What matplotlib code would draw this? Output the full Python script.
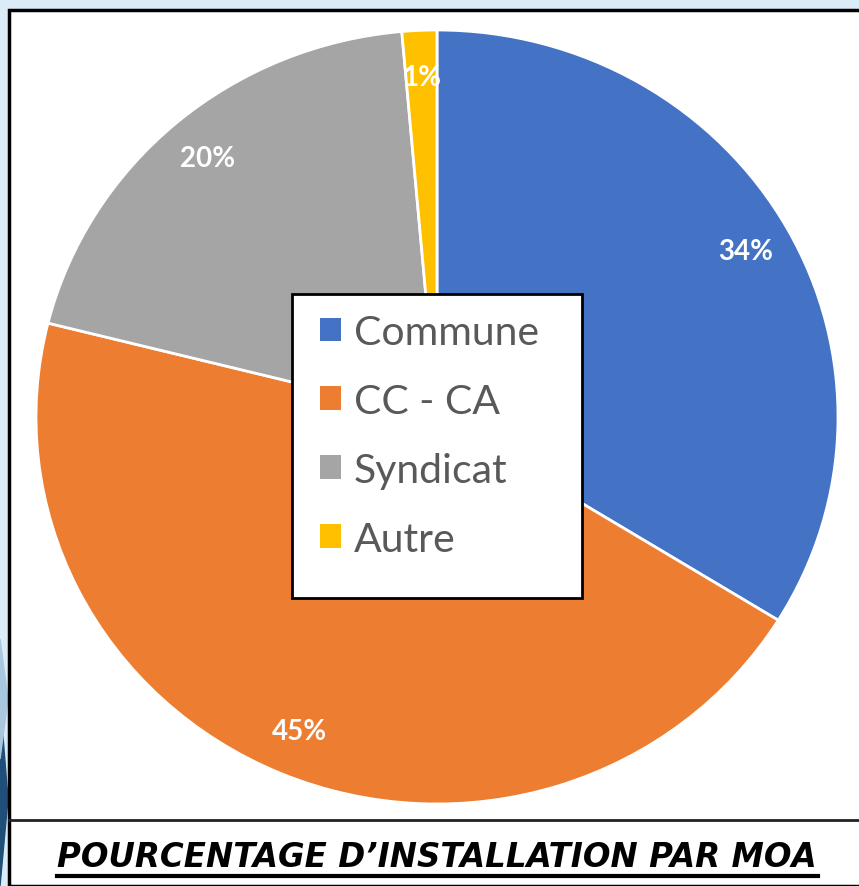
import matplotlib
matplotlib.use('Agg')
import matplotlib.pyplot as plt
from matplotlib.patches import Patch, Rectangle, Polygon
from matplotlib import font_manager
from matplotlib.lines import Line2D

# data
labels = ['Commune', 'CC - CA', 'Syndicat', 'Autre']
values = [33.8, 45.1, 19.7, 1.4]
colors = ['#4472C4', '#ED7D31', '#A5A5A5', '#FFC000']
title = "POURCENTAGE D\u2019INSTALLATION PAR MOA"

W, H = 859, 887
fig = plt.figure(figsize=(W / 100, H / 100), dpi=100)
fig.patch.set_facecolor('#DCEBF8')

def fx(px):
    return px / W

def fy(py):
    return 1 - py / H

# slide decoration at the bottom left
fig.patches.append(Polygon([(0, fy(700)), (fx(8), fy(800)), (0, fy(887))], closed=True,
                           transform=fig.transFigure, color='#1F4E79', zorder=0))
fig.patches.append(Polygon([(0, fy(640)), (fx(8), fy(700)), (0, fy(760))], closed=True,
                           transform=fig.transFigure, color='#A9C8E0', zorder=0))

# white card with black border
fig.patches.append(Rectangle((fx(9), 0), 1.0, fy(11), transform=fig.transFigure,
                             facecolor='white', edgecolor='black', linewidth=2.5, zorder=1))
fig.lines.append(Line2D([fx(9), 1], [fy(821), fy(821)], transform=fig.transFigure,
                        color='#222222', linewidth=2, zorder=2))

# pie
ax = fig.add_axes([fx(36), fy(805), fx(838) - fx(36), fy(31) - fy(805)])
ax.set_zorder(2)
wedges, texts, autotexts = ax.pie(values, colors=colors, startangle=90, counterclock=False,
                                  autopct='%.0f%%', pctdistance=0.88,
                                  wedgeprops=dict(edgecolor='white', linewidth=2),
                                  textprops=dict(color='white', fontsize=20, fontweight='bold',
                                                 family='Lato'))
ax.set_aspect('auto')
ax.set_xlim(-1, 1)
ax.set_ylim(-1, 1)
ax.axis('off')

# legend box
fig.patches.append(Rectangle((fx(292), fy(599)), fx(582) - fx(292), fy(295) - fy(599),
                             transform=fig.transFigure, facecolor='white', edgecolor='black',
                             linewidth=2, zorder=3))
handles = [Patch(facecolor=c, edgecolor='none') for c in colors]
leg = fig.legend(handles, labels, loc='upper left', bbox_to_anchor=(fx(320), fy(315)),
                 frameon=False, prop=dict(family='Lato', size=29.5),
                 handlelength=0.52, handleheight=0.52, handletextpad=0.3,
                 labelspacing=0.78, borderpad=0, borderaxespad=0)
leg.set_zorder(4)
for t in leg.get_texts():
    t.set_color('#595959')

# title, with underline
names = {f.name for f in font_manager.fontManager.ttflist}
tfam = 'Liberation Sans Narrow' if 'Liberation Sans Narrow' in names else 'DejaVu Sans'
tt = fig.text(fx(437), fy(858), title, ha='center', va='center', fontsize=24,
              fontweight='bold', fontstyle='italic', family=tfam, zorder=5)
fig.canvas.draw()
bb = tt.get_window_extent()
tt.set_fontsize(24 * 761 / bb.width)
fig.lines.append(Line2D([fx(57), fx(818)], [fy(877), fy(877)], transform=fig.transFigure,
                        color='black', linewidth=3, zorder=5))

fig.savefig('out.png', dpi=100)
